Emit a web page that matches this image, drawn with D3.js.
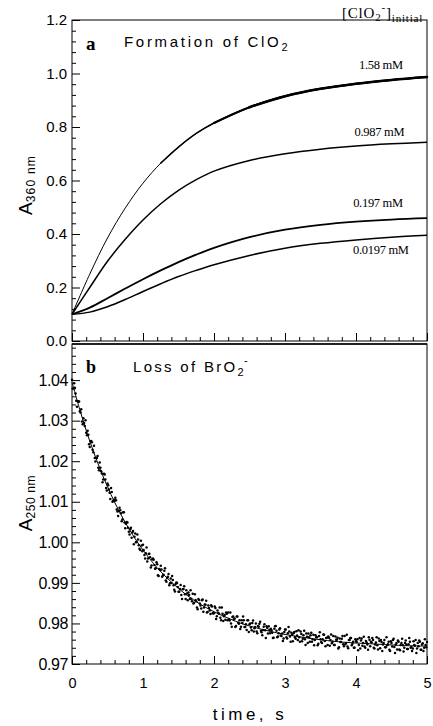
<!DOCTYPE html>
<html><head><meta charset="utf-8">
<script src="https://cdn.jsdelivr.net/npm/d3@7"></script>
<style>body{margin:0;background:#fff}svg{display:block}</style>
</head><body>
<svg id="c" width="433" height="726"></svg>
<script>
// ---------- DATA ----------
const timeGrid = [0,0.25,0.5,0.75,1,1.25,1.5,1.75,2,2.5,3,3.5,4,4.5,5];
const concLabels = ["1.58 mM","0.987 mM","0.197 mM","0.0197 mM"];
const a158   = [0.100,0.250,0.385,0.497,0.590,0.665,0.725,0.776,0.815,0.874,0.915,0.943,0.962,0.976,0.987];
const a0987  = [0.100,0.200,0.298,0.380,0.452,0.513,0.563,0.603,0.635,0.675,0.700,0.717,0.729,0.737,0.743];
const a0197  = [0.100,0.125,0.160,0.196,0.231,0.264,0.295,0.323,0.348,0.388,0.416,0.434,0.446,0.454,0.459];
const a00197 = [0.100,0.108,0.128,0.155,0.185,0.214,0.241,0.264,0.285,0.320,0.347,0.365,0.378,0.388,0.395];
const labelPos = [[4.35,1.015],[4.33,0.766],[4.31,0.500],[4.35,0.325]];

const topYTicks = [0,0.2,0.4,0.6,0.8,1.0,1.2];
const botYTicks = [0.97,0.98,0.99,1.00,1.01,1.02,1.03,1.04];
const xTicks = [0,1,2,3,4,5];

// Loss of BrO2- : observed points (t = 0, 0.02, 0.04 ...) and (t = 0.01, 0.03 ...), and fitted line
const obsDt = 0.02;
const obsEven = [
1.0401,1.0379,1.0381,1.0349,1.0348,1.0347,1.0320,1.0298,1.0306,1.0287,
1.0270,1.0275,1.0242,1.0249,1.0247,1.0222,1.0208,1.0208,1.0213,1.0178,
1.0184,1.0170,1.0155,1.0167,1.0134,1.0145,1.0130,1.0107,1.0124,1.0102,
1.0102,1.0104,1.0076,1.0077,1.0079,1.0052,1.0074,1.0049,1.0046,1.0049,
1.0026,1.0032,1.0011,1.0028,1.0014,1.0000,1.0019,0.9993,0.9981,0.9992,
0.9994,0.9969,0.9973,0.9953,0.9971,0.9963,0.9943,0.9960,0.9944,0.9936,
0.9946,0.9917,0.9932,0.9933,0.9918,0.9930,0.9906,0.9912,0.9922,0.9899,
0.9900,0.9907,0.9883,0.9897,0.9900,0.9878,0.9885,0.9870,0.9884,0.9892,
0.9860,0.9874,0.9876,0.9860,0.9861,0.9873,0.9851,0.9858,0.9839,0.9860,
0.9849,0.9837,0.9859,0.9839,0.9846,0.9827,0.9844,0.9832,0.9845,0.9825,
0.9825,0.9838,0.9818,0.9826,0.9839,0.9808,0.9824,0.9818,0.9809,0.9824,
0.9827,0.9807,0.9800,0.9816,0.9810,0.9791,0.9817,0.9802,0.9808,0.9792,
0.9801,0.9808,0.9791,0.9784,0.9808,0.9798,0.9790,0.9801,0.9780,0.9791,
0.9780,0.9794,0.9799,0.9782,0.9771,0.9792,0.9783,0.9793,0.9775,0.9784,
0.9787,0.9777,0.9765,0.9793,0.9782,0.9768,0.9785,0.9770,0.9775,0.9763,
0.9785,0.9766,0.9776,0.9780,0.9755,0.9772,0.9776,0.9766,0.9781,0.9759,
0.9766,0.9780,0.9756,0.9771,0.9761,0.9775,0.9752,0.9766,0.9771,0.9755,
0.9772,0.9759,0.9766,0.9746,0.9769,0.9761,0.9752,0.9773,0.9757,0.9764,
0.9747,0.9765,0.9759,0.9751,0.9769,0.9747,0.9760,0.9765,0.9741,0.9754,
0.9762,0.9749,0.9769,0.9752,0.9743,0.9759,0.9764,0.9746,0.9755,0.9740,
0.9757,0.9761,0.9747,0.9738,0.9763,0.9752,0.9743,0.9757,0.9748,0.9766,
0.9744,0.9753,0.9759,0.9738,0.9753,0.9746,0.9763,0.9739,0.9754,0.9748,
0.9759,0.9741,0.9746,0.9755,0.9732,0.9752,0.9759,0.9742,0.9748,0.9736,
0.9755,0.9734,0.9752,0.9746,0.9740,0.9758,0.9737,0.9749,0.9755,0.9742,
0.9738,0.9747,0.9759,0.9738,0.9744,0.9755,0.9735,0.9751,0.9740,0.9747,
0.9754];
const obsOdd = [
1.0379,1.0392,1.0367,1.0334,1.0347,1.0323,1.0328,1.0291,1.0294,1.0301,
1.0264,1.0265,1.0235,1.0250,1.0228,1.0238,1.0199,1.0208,1.0184,1.0197,
1.0175,1.0148,1.0169,1.0155,1.0128,1.0141,1.0122,1.0134,1.0100,1.0105,
1.0110,1.0081,1.0065,1.0085,1.0072,1.0056,1.0074,1.0035,1.0050,1.0036,
1.0019,1.0036,1.0024,0.9995,1.0022,1.0001,1.0007,0.9984,1.0004,0.9978,
0.9981,0.9960,0.9987,0.9960,0.9972,0.9938,0.9958,0.9957,0.9935,0.9951,
0.9919,0.9934,0.9942,0.9915,0.9920,0.9936,0.9903,0.9915,0.9894,0.9911,
0.9917,0.9894,0.9879,0.9901,0.9890,0.9878,0.9895,0.9860,0.9885,0.9872,
0.9882,0.9857,0.9870,0.9882,0.9855,0.9849,0.9872,0.9855,0.9835,0.9858,
0.9844,0.9857,0.9829,0.9847,0.9856,0.9828,0.9838,0.9823,0.9842,0.9825,
0.9842,0.9811,0.9832,0.9824,0.9814,0.9839,0.9806,0.9821,0.9827,0.9808,
0.9811,0.9827,0.9792,0.9817,0.9812,0.9794,0.9817,0.9799,0.9786,0.9808,
0.9817,0.9791,0.9798,0.9808,0.9779,0.9800,0.9783,0.9807,0.9788,0.9800,
0.9776,0.9792,0.9804,0.9778,0.9784,0.9798,0.9764,0.9789,0.9793,0.9776,
0.9783,0.9764,0.9787,0.9794,0.9766,0.9776,0.9788,0.9769,0.9757,0.9779,
0.9785,0.9763,0.9791,0.9768,0.9777,0.9756,0.9779,0.9762,0.9770,0.9783,
0.9755,0.9774,0.9762,0.9782,0.9747,0.9767,0.9775,0.9755,0.9777,0.9761,
0.9746,0.9771,0.9766,0.9750,0.9778,0.9754,0.9761,0.9772,0.9744,0.9765,
0.9768,0.9745,0.9773,0.9755,0.9747,0.9768,0.9760,0.9738,0.9763,0.9754,
0.9769,0.9744,0.9749,0.9772,0.9739,0.9759,0.9764,0.9750,0.9740,0.9761,
0.9754,0.9734,0.9764,0.9758,0.9745,0.9767,0.9740,0.9753,0.9735,0.9760,
0.9755,0.9764,0.9740,0.9748,0.9766,0.9736,0.9757,0.9759,0.9732,0.9752,
0.9741,0.9766,0.9749,0.9735,0.9756,0.9743,0.9762,0.9727,0.9752,0.9758,
0.9736,0.9747,0.9762,0.9731,0.9752,0.9748,0.9737,0.9764,0.9740,0.9732,
0.9756,0.9745,0.9727,0.9752,0.9758,0.9735,0.9748,0.9732,0.9761,0.9741];
const fitT = [0,0.1,0.2,0.3,0.4,0.5,0.6,0.7,0.8,0.9,1.0,1.2,1.4,1.6,1.8,2.0,2.2,2.4,2.6,2.8,3.0,3.4,3.8,4.2,4.6,5.0];
const fitA = [1.0395,1.0333,1.0276,1.0225,1.0179,1.0137,1.0099,1.0065,1.0034,1.0006,0.9981,0.9937,0.9902,0.9872,0.9848,0.9829,0.9813,0.9799,0.9789,0.9780,0.9773,0.9762,0.9754,0.9750,0.9746,0.9744];

// ---------- LAYOUT ----------
const svg = d3.select("#c");
const X0 = 72, X1 = 427;
const topY0 = 20, topY1 = 341;
const botY0 = 344, botY1 = 664;
const sans = "'Liberation Sans', Arial, sans-serif";
const serif = "'Liberation Serif', 'Times New Roman', serif";

const x = d3.scaleLinear().domain([0,5]).range([X0,X1]);
const yA = d3.scaleLinear().domain([0,1.2]).range([topY1,topY0]);
const yB = d3.scaleLinear().domain([0.97,1.0489]).range([botY1,botY0]);

const minorX = d3.range(0,5.001,0.2).filter(v=>Math.abs(v-Math.round(v))>1e-6);
const minorYA = d3.range(0,1.2001,0.04).filter(v=>Math.abs(v/0.2-Math.round(v/0.2))>1e-6);
const minorYB = d3.range(0.97,1.0489,0.002).filter(v=>Math.abs(v/0.01-Math.round(v/0.01))>1e-6);

function styleAxis(g){
  g.select(".domain").remove();
  g.selectAll("line").attr("stroke","#000").attr("stroke-width",1);
  g.selectAll("text").attr("fill","#000");
}

// ---------- PANEL A ----------
const gA = svg.append("g");
gA.append("g").attr("transform",`translate(${X0},0)`)
  .call(d3.axisLeft(yA).tickValues(topYTicks).tickSize(-8).tickPadding(5).tickFormat(d3.format(".1f")))
  .call(styleAxis).selectAll("text").attr("font-family",sans).attr("font-size",15);
gA.append("g").attr("transform",`translate(${X0},0)`)
  .call(d3.axisLeft(yA).tickValues(minorYA).tickSize(-4).tickFormat(""))
  .call(styleAxis);
gA.append("g").attr("transform",`translate(0,${topY1})`)
  .call(d3.axisBottom(x).tickValues(xTicks).tickSize(-8).tickFormat(""))
  .call(styleAxis);
gA.append("g").attr("transform",`translate(0,${topY1})`)
  .call(d3.axisBottom(x).tickValues(minorX).tickSize(-4).tickFormat(""))
  .call(styleAxis);
gA.append("rect").attr("x",X0).attr("y",topY0).attr("width",X1-X0).attr("height",topY1-topY0)
  .attr("fill","none").attr("stroke","#000").attr("stroke-width",1);

const lineA = d3.line().x(d=>x(d[0])).y(d=>yA(d[1])).curve(d3.curveCatmullRom.alpha(0.5));
const seriesA = [a158,a0987,a0197,a00197];
const widthsA = [1,1.5,1.8,1.5];
seriesA.forEach((s,i)=>{
  const pts = timeGrid.map((t,j)=>[t,s[j]]);
  gA.append("path").attr("d",lineA(pts)).attr("fill","none").attr("stroke","#000").attr("stroke-width",widthsA[i]);
});
// overlapping repeat traces make the top curve look heavier at later times
[[1.25,1.5],[2.0,2.0],[2.5,2.5]].forEach(([t0,w])=>{
  gA.append("path").attr("d",lineA(timeGrid.map((t,j)=>[t,a158[j]]).filter(d=>d[0]>=t0)))
    .attr("fill","none").attr("stroke","#000").attr("stroke-width",w).attr("stroke-linecap","round");
});

concLabels.forEach((l,i)=>{
  gA.append("text").attr("x",x(labelPos[i][0])).attr("y",yA(labelPos[i][1]))
    .attr("text-anchor","middle").attr("font-family",serif).attr("font-size",12.5)
    .attr("letter-spacing",-0.3).text(l);
});
// [ClO2-]initial header
const hdr = gA.append("text").attr("x",342).attr("y",18).attr("font-family",serif).attr("font-size",15).attr("letter-spacing",0.8);
hdr.append("tspan").text("[ClO");
hdr.append("tspan").attr("font-size",11).attr("dy",3).text("2");
hdr.append("tspan").attr("font-size",11).attr("dy",-10).text("-");
hdr.append("tspan").attr("dy",7).text("]");
hdr.append("tspan").attr("font-size",11).attr("dy",4).text("initial");

gA.append("text").attr("x",86).attr("y",50).attr("font-family",serif).attr("font-weight","bold").attr("font-size",19).text("a");
const tA = gA.append("text").attr("x",124).attr("y",47).attr("font-family",sans).attr("font-size",15).attr("letter-spacing",2.7);
tA.append("tspan").text("Formation of ClO");
tA.append("tspan").attr("font-size",11).attr("dy",4).text("2");

gA.append("text").attr("transform","translate(32,185) rotate(-90)").attr("text-anchor","middle")
  .attr("font-family",sans).attr("font-size",19)
  .call(t=>{ t.append("tspan").text("A"); t.append("tspan").attr("font-size",12).attr("dy",3).attr("letter-spacing",1.2).text("360 nm"); });

// ---------- PANEL B ----------
const gB = svg.append("g");
gB.append("g").attr("transform",`translate(${X0},0)`)
  .call(d3.axisLeft(yB).tickValues(botYTicks).tickSize(-8).tickPadding(4).tickFormat(d3.format(".2f")))
  .call(styleAxis).selectAll("text").attr("font-family",sans).attr("font-size",16).attr("letter-spacing",-0.4);
gB.append("g").attr("transform",`translate(${X0},0)`)
  .call(d3.axisLeft(yB).tickValues(minorYB).tickSize(-4).tickFormat(""))
  .call(styleAxis);
gB.append("g").attr("transform",`translate(0,${botY1})`)
  .call(d3.axisBottom(x).tickValues(xTicks).tickSize(-8).tickPadding(14).tickFormat(d3.format("d")))
  .call(styleAxis).selectAll("text").attr("font-family",sans).attr("font-size",14.5);
gB.append("g").attr("transform",`translate(0,${botY1})`)
  .call(d3.axisBottom(x).tickValues(minorX).tickSize(-4).tickFormat(""))
  .call(styleAxis);
gB.append("rect").attr("x",X0).attr("y",botY0).attr("width",X1-X0).attr("height",botY1-botY0)
  .attr("fill","none").attr("stroke","#000").attr("stroke-width",1);
gB.append("line").attr("x1",X0).attr("x2",X1).attr("y1",botY0).attr("y2",botY0).attr("stroke","#000").attr("stroke-width",1.6);

const obs = obsEven.map((v,i)=>[i*obsDt,v]).concat(obsOdd.map((v,i)=>[i*obsDt+obsDt/2,v]));
gB.selectAll("circle.obs").data(obs).enter().append("circle").attr("class","obs")
  .attr("cx",d=>x(d[0])).attr("cy",d=>yB(d[1])).attr("r",1.25).attr("fill","#000");
const lineB = d3.line().x(d=>x(d[0])).y(d=>yB(d[1])).curve(d3.curveCatmullRom.alpha(0.5));
gB.append("path").attr("d",lineB(fitT.map((t,j)=>[t,fitA[j]]))).attr("fill","none").attr("stroke","#000").attr("stroke-width",1);

gB.append("text").attr("x",86).attr("y",373).attr("font-family",serif).attr("font-weight","bold").attr("font-size",18).text("b");
const tB = gB.append("text").attr("x",133).attr("y",372).attr("font-family",sans).attr("font-size",15).attr("letter-spacing",2.3);
tB.append("tspan").text("Loss of BrO");
tB.append("tspan").attr("font-size",11).attr("dy",4).text("2");
tB.append("tspan").attr("font-size",11).attr("dx",-2).attr("dy",-12).text("-");

gB.append("text").attr("transform","translate(32,503) rotate(-90)").attr("text-anchor","middle")
  .attr("font-family",sans).attr("font-size",19)
  .call(t=>{ t.append("tspan").text("A"); t.append("tspan").attr("font-size",12).attr("dy",3).attr("letter-spacing",0.6).text("250 nm"); });

svg.append("text").attr("x",250).attr("y",720).attr("text-anchor","middle")
  .attr("font-family",sans).attr("font-size",17).attr("letter-spacing",3.5).text("time, s");
</script>
</body></html>
